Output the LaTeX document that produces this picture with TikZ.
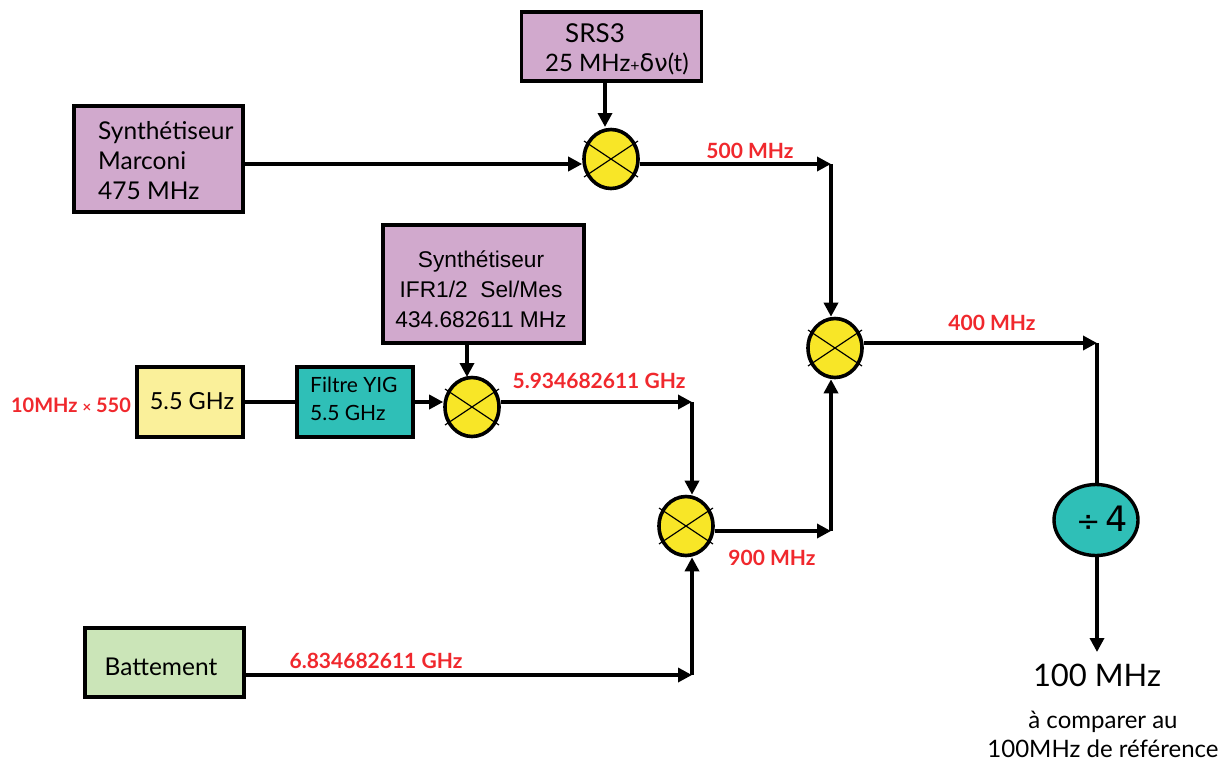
\documentclass[tikz,border=0pt]{standalone}
\usepackage{fontspec}
\setmainfont{Lato}
\newfontfamily\arialf{Liberation Sans}
\newfontfamily\symf{DejaVu Sans}
\usetikzlibrary{shapes.geometric,arrows.meta}
\definecolor{mauve}{HTML}{D1A9CD}
\definecolor{paleyel}{HTML}{FAF09A}
\definecolor{teal2}{HTML}{2FBFB7}
\definecolor{paleg}{HTML}{CBE5B8}
\definecolor{mixy}{HTML}{F8E627}
\definecolor{lab}{HTML}{F0282D}
\tikzset{
  x=1pt,y=-1pt,
  boxs/.style={draw=black,line width=3.2pt,inner sep=0pt,outer sep=0pt,anchor=north west,text=black},
  mixer/.style={draw=black,ellipse,fill=mixy,line width=3.6pt,minimum width=54pt,minimum height=59pt,inner sep=0pt},
  wire/.style={draw=black,line width=3.4pt},
  arr/.style={wire,-{Triangle[length=14pt,width=14pt]}},
  crossl/.style={draw=black,line width=1.2pt},
  redl/.style={text=lab,font=\fontsize{21}{25}\selectfont\bfseries,inner sep=0pt},
  blackl/.style={text=black,inner sep=0pt},
}
\begin{document}
\begin{tikzpicture}
\useasboundingbox (0,0) rectangle (1222,761);
% boxes
\node[boxs,fill=mauve,minimum width=180pt,minimum height=69pt] (srs) at (521.5,12) {};
\node[blackl,font=\fontsize{26}{30}\selectfont] (srsa) at (595,33) {SRS3};
\node[blackl,font=\fontsize{24}{28}\selectfont,anchor=west] (srsb) at (545,64) {25 MHz{\fontsize{16}{16}\selectfont+}{\symf δν}(t)};
\node[boxs,fill=mauve,minimum width=169pt,minimum height=106pt] (marc) at (74,106) {};
\node[blackl,anchor=west,align=left,font=\fontsize{24.5}{30}\selectfont] (marct) at (98,161) {Synthétiseur\\Marconi\\475 MHz};
\node[boxs,fill=mauve,minimum width=201pt,minimum height=118pt] (ifr) at (383,225) {};
\node[blackl,align=center,font=\arialf\fontsize{22.7}{30}\selectfont] (ifrt) at (481,289) {Synthétiseur\\IFR1/2\ \ Sel/Mes\\434.682611 MHz};
\node[boxs,fill=paleyel,minimum width=106pt,minimum height=70pt] (yel) at (137,367) {};
\node[blackl,font=\fontsize{23.5}{27}\selectfont] (yelt) at (192,401) {5.5 GHz};
\node[boxs,fill=teal2,minimum width=116pt,minimum height=70pt] (yig) at (297,367) {};
\node[blackl,anchor=west,align=left,font=\fontsize{21}{28}\selectfont] (yigt) at (310,399) {Filtre YIG\\5.5 GHz};
\node[boxs,fill=paleg,minimum width=159pt,minimum height=69pt] (bat) at (85,628) {};
\node[blackl,font=\fontsize{24.5}{27}\selectfont] (batt) at (161,667) {Battement};
% mixers
\node[mixer] (m1) at (611,159) {};
\node[mixer] (m2) at (472,407) {};
\node[mixer] (m3) at (686,526) {};
\node[mixer] (m4) at (835,348) {};
\foreach \m in {m1,m2,m3,m4}{
  \draw[crossl] ([shift={(-27,-18)}]\m.center) -- ([shift={(27,18)}]\m.center);
  \draw[crossl] ([shift={(27,-18)}]\m.center) -- ([shift={(-27,18)}]\m.center);
}
\node[draw=black,ellipse,fill=teal2,line width=3.4pt,minimum width=84pt,minimum height=71pt,inner sep=0pt] (dv) at (1096,520) {};
\node[blackl] (dvt) at (1102,519) {\symf\fontsize{29}{29}\selectfont ÷\,\fontsize{35}{35}\selectfont 4};
% corners
\coordinate (c1) at (831,164);
\coordinate (c2) at (692,402);
\coordinate (c3) at (692,675);
\coordinate (c4) at (831,531);
\coordinate (c5) at (1097,343);
\coordinate (endp) at (1097,652);
% connectors
\draw[arr] (srs.south -| m1.north) ++(-6,0) -- ++(0,46);
\draw[arr] (marc.east |- 0,164) -- (m1.west |- 0,164);
\draw[arr] (m1.east |- 0,164) -- (c1);
\draw[arr] (c1) -- (c1 |- m4.north);
\draw[arr] (ifr.south -| m2.north) ++(-5,0) -- ++(0,34);
\draw[wire] (yel.east |- 0,402) -- (yig.west |- 0,402);
\draw[arr] (yig.east |- 0,402) -- (m2.west |- 0,402);
\draw[arr] (m2.east |- 0,402) -- (c2);
\draw[arr] (c2) -- (c2 |- m3.north);
\draw[arr] (m3.east |- 0,531) -- (c4);
\draw[arr] (c4) -- (c4 |- m4.south);
\draw[arr] (bat.east |- 0,675) -- (c3);
\draw[arr] (c3) -- (c3 |- m3.south);
\draw[arr] (m4.east |- 0,343) -- (c5);
\draw[wire] (c5) -- (c5 |- dv.north);
\draw[arr] (c5 |- dv.south) -- (endp);
% labels
\node[redl] (l1) at (750,151) {500 MHz};
\node[redl] (l2) at (992,323) {400 MHz};
\node[redl] (l3) at (599,381) {5.934682611 GHz};
\node[redl] (l4) at (772,558) {900 MHz};
\node[redl] (l5) at (376,661) {6.834682611 GHz};
\node[redl,font=\fontsize{20}{25}\selectfont\bfseries] (l6) at (71,405) {10MHz {\fontsize{15}{15}\selectfont×} 550};
\node[blackl,font=\fontsize{31}{36}\selectfont] (o1) at (1097,675) {100 MHz};
\node[blackl,align=center,font=\fontsize{24}{29}\selectfont] (o2) at (1103,734) {à comparer au\\100MHz de référence};
\end{tikzpicture}
\end{document}
